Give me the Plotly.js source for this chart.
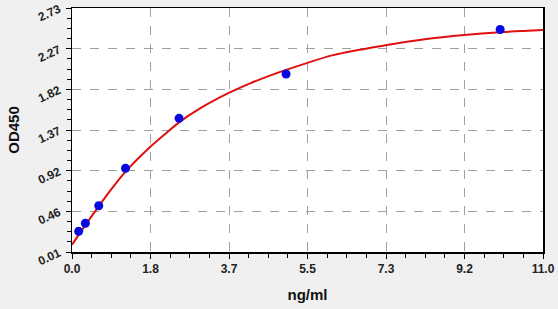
<!DOCTYPE html>
<html>
<head>
<meta charset="utf-8">
<script src="https://cdn.plot.ly/plotly-3.0.1.min.js"></script>
<style>html,body{margin:0;padding:0;background:#f0f0f0;}#chart{width:558px;height:309px;}</style>
</head>
<body>
<div id="chart"></div>
<script>
// Standard points
const stdConc = [0.156, 0.3125, 0.625, 1.25, 2.5, 5, 10];
const stdOD = [0.24, 0.33, 0.526, 0.943, 1.50, 1.994, 2.49];
// Fitted curve
const fitX = [0, 0.14, 0.30, 0.61, 0.92, 1.23, 1.78, 2.21, 2.50, 2.99, 3.65, 4.16, 4.70, 5.32, 6.10, 7.32, 8.20, 9.16, 10.0, 11.0];
const fitY = [0.09, 0.19, 0.30, 0.51, 0.71, 0.895, 1.16, 1.34, 1.455, 1.61, 1.78, 1.89, 1.99, 2.09, 2.205, 2.315, 2.378, 2.428, 2.46, 2.485];
// Tick labels
const xTickText = ["0.0", "1.8", "3.7", "5.5", "7.3", "9.2", "11.0"];
const yTickText = ["0.01", "0.46", "0.92", "1.37", "1.82", "2.27", "2.73"];

const xMin = 0, xMax = 11.0, yMin = 0.01, yMax = 2.73;
const xTickVals = xTickText.map((t, i) => xMin + i * (xMax - xMin) / (xTickText.length - 1));
const yTickVals = yTickText.map((t, i) => yMin + i * (yMax - yMin) / (yTickText.length - 1));

const tickFont = {family: 'Liberation Sans, Arial, sans-serif', size: 12, color: '#222', weight: 'bold'};
const titleFont = {family: 'Liberation Sans, Arial, sans-serif', size: 15, color: '#111', weight: 'bold'};

const traces = [
  {x: fitX, y: fitY, type: 'scatter', mode: 'lines', line: {color: '#e01010', width: 2, shape: 'spline', smoothing: 1}, hoverinfo: 'skip'},
  {x: stdConc, y: stdOD, type: 'scatter', mode: 'markers', marker: {color: '#0808e0', size: 9, line: {width: 0}}}
];

const layout = {
  width: 558, height: 309,
  margin: {l: 72, r: 15, t: 8, b: 57},
  paper_bgcolor: '#f0f0f0', plot_bgcolor: '#ffffff',
  showlegend: false,
  xaxis: {
    range: [xMin, xMax], tickmode: 'array', tickvals: xTickVals, ticktext: xTickText,
    ticks: 'outside', ticklen: 5, tickcolor: '#000', tickfont: tickFont,
    showline: true, linecolor: '#000', linewidth: 1.5, mirror: true,
    showgrid: true, gridcolor: '#a0a0a0', griddash: 'dash', gridwidth: 1, zeroline: false,
    minor: {tick0: 0, dtick: (xMax - xMin) / 24, ticks: 'outside', ticklen: 4, tickcolor: '#000', showgrid: false},
    title: {text: 'ng/ml', font: titleFont, standoff: 14}
  },
  yaxis: {
    range: [yMin, yMax], tickmode: 'array', tickvals: yTickVals, ticktext: yTickText,
    ticks: 'outside', ticklen: 5, tickcolor: '#000', tickfont: tickFont, tickangle: -25,
    ticklabelstandoff: 4,
    showline: true, linecolor: '#000', linewidth: 1.5, mirror: true,
    showgrid: true, gridcolor: '#a0a0a0', griddash: 'dash', gridwidth: 1, zeroline: false,
    minor: {tick0: yMin, dtick: (yMax - yMin) / 24, ticks: 'outside', ticklen: 4, tickcolor: '#000', showgrid: false},
    title: {text: 'OD450', font: titleFont, standoff: 12}
  }
};
Plotly.newPlot('chart', traces, layout, {displayModeBar: false, staticPlot: true});
</script>
</body>
</html>
